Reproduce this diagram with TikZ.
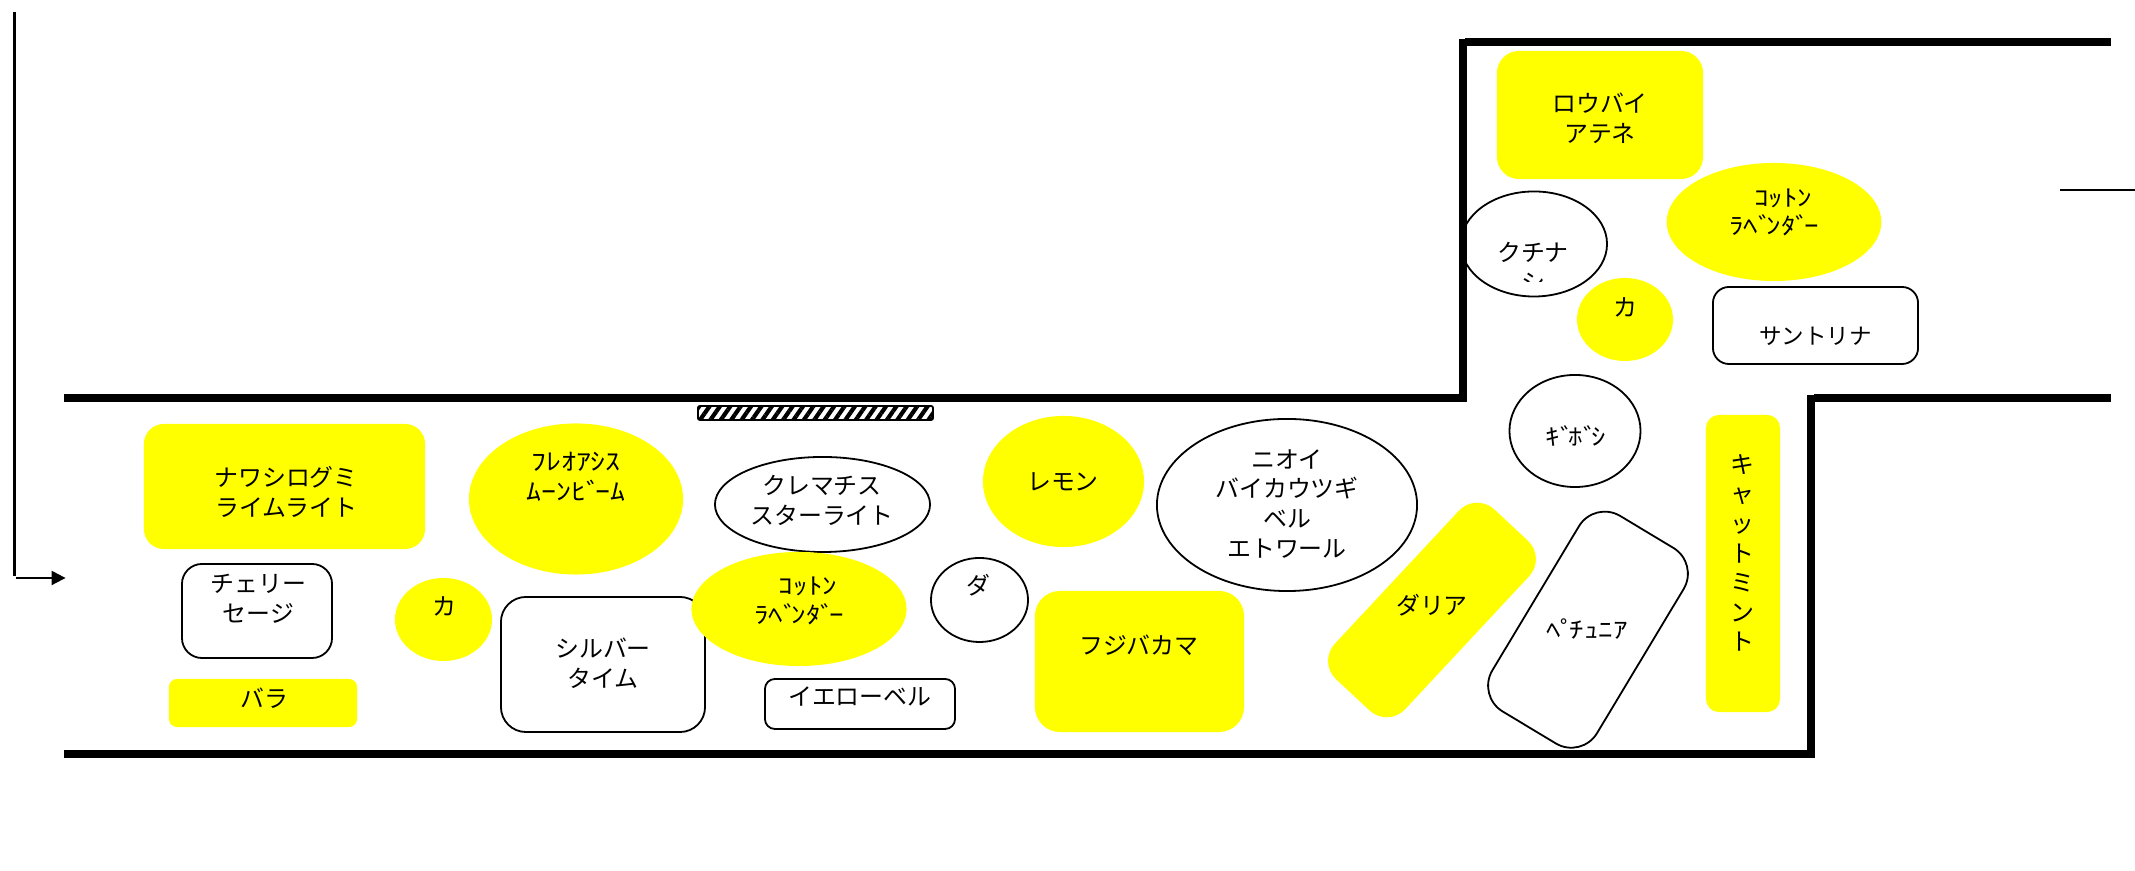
\documentclass[tikz,border=0pt]{standalone}
\usepackage{fontspec}
\setmainfont{Noto Sans CJK JP}
\newfontfamily\hankaku[FakeStretch=1.25]{Noto Sans CJK JP}
\usetikzlibrary{shapes.geometric,arrows.meta,patterns.meta}
\definecolor{plantyellow}{RGB}{255,255,0}
\newcommand\dk{\kern-0.06cm\relax}

\tikzset{
    wall/.style={line width=0.08cm},
    yellowbox/.style={rectangle, fill=plantyellow, inner sep=0},
    whitebox/.style={rectangle, draw, fill=white, line width=0.018cm, inner sep=0},
    yellowell/.style={ellipse, fill=plantyellow, inner sep=0},
    whiteell/.style={ellipse, draw, fill=white, line width=0.018cm, inner sep=0},
    zen/.style={align=center, inner sep=0, font=\fontsize{6.8pt}{8.5pt}\selectfont},
    han/.style={align=center, inner sep=0, font=\hankaku\fontsize{6.6pt}{8.1pt}\selectfont},
    hanbig/.style={align=center, inner sep=0, font=\hankaku\fontsize{6.8pt}{8.5pt}\selectfont}
}

\begin{document}
\begin{tikzpicture}[x=0.01cm, y=-0.01cm]
    \useasboundingbox (0,0) rectangle (2135,871);
    % left side
    \node[yellowbox, minimum width=2.81cm, minimum height=1.25cm, rounded corners=0.2cm] (nawashiro) at (284.5,486.5) {};
    \node[zen] (nawashirot) at (286,492) {ナワシログミ\\ライムライト};
    \node[yellowell, minimum width=2.14cm, minimum height=1.51cm] (phlox) at (576,499) {};
    \node[hanbig] (phloxt) at (576,477) {ﾌﾚｵｱｼｽ\\ﾑｰﾝﾋﾞ\dk ｰﾑ};
    \node[whitebox, minimum width=1.50cm, minimum height=0.94cm, rounded corners=0.2cm] (cherry) at (257,611) {};
    \node[zen] (cherryt) at (258.5,599) {チェリー\\セージ};
    \node[yellowell, minimum width=0.97cm, minimum height=0.83cm] (kaleft) at (443.5,619.5) {};
    \node[zen] (kaleftt) at (444,606) {カ};
    \node[whitebox, minimum width=2.04cm, minimum height=1.35cm, rounded corners=0.25cm] (silver) at (603,664.5) {};
    \node[zen] (silvert) at (603,663) {シルバー\\タイム};
    \node[yellowbox, minimum width=1.88cm, minimum height=0.48cm, rounded corners=0.08cm] (bara) at (263,703) {};
    \node[zen] (barat) at (264,698) {バラ};
    % middle
    \node[draw, line width=0.018cm, rounded corners=0.02cm, minimum width=2.35cm, minimum height=0.14cm, inner sep=0,
        pattern={Lines[angle=55,distance=0.085cm,line width=0.042cm]}] (hatch) at (815.5,413) {};
    \node[whiteell, minimum width=2.15cm, minimum height=0.95cm] (clematis) at (822.5,504.5) {};
    \node[zen] (clematist) at (822,500.5) {クレマチス\\スターライト};
    \node[yellowell, minimum width=2.15cm, minimum height=1.14cm] (cottonlow) at (799,609) {};
    \node[han] (cottonlowt) at (799,601) {\hspace*{0.18cm}ｺｯﾄﾝ\\ﾗﾍﾞ\dk ﾝﾀﾞ\dk ｰ};
    \node[whiteell, minimum width=0.97cm, minimum height=0.84cm] (da) at (979.5,600) {};
    \node[zen] (dat) at (978,585) {ダ};
    \node[yellowell, minimum width=1.61cm, minimum height=1.31cm] (lemon) at (1063.5,481.5) {};
    \node[zen] (lemont) at (1063,482) {レモン};
    \node[whiteell, minimum width=2.60cm, minimum height=1.72cm] (nioi) at (1287,505) {};
    \node[zen] (nioit) at (1287,504) {ニオイ\\バイカウツギ\\ベル\\エトワール};
    \node[yellowbox, minimum width=2.09cm, minimum height=1.41cm, rounded corners=0.25cm] (fuji) at (1139.5,661.5) {};
    \node[zen] (fujit) at (1139,645) {フジバカマ};
    \node[whitebox, minimum width=1.90cm, minimum height=0.50cm, rounded corners=0.1cm] (yellowbell) at (860,704) {};
    \node[zen] (yellowbellt) at (860,697) {イエローベル};
    % right side
    \node[yellowbox, minimum width=2.32cm, minimum height=0.96cm, rounded corners=0.25cm, rotate=47] (dahlia) at (1432,610) {};
    \node[zen] (dahliat) at (1432,605) {ダリア};
    \node[whitebox, minimum width=2.28cm, minimum height=1.22cm, rounded corners=0.3cm, rotate=59] (petunia) at (1588,629.7) {};
    \node[han] (petuniat) at (1587,629) {ﾍﾟ\dk ﾁｭﾆｱ};
    \node[whiteell, minimum width=1.31cm, minimum height=1.12cm] (giboshi) at (1575,431) {};
    \node[han] (giboshit) at (1576,436) {ｷﾞ\dk ﾎﾞ\dk ｼ};
    \node[yellowbox, minimum width=0.74cm, minimum height=2.97cm, rounded corners=0.13cm] (catmint) at (1743,563.5) {};
    \node[zen, font=\fontsize{6.8pt}{8.42pt}\selectfont] (catmintt) at (1742,553) {キ\\ャ\\ッ\\ト\\ミ\\ン\\ト};
    % upper room
    \node[yellowbox, minimum width=2.06cm, minimum height=1.28cm, rounded corners=0.22cm] (roubai) at (1600,115) {};
    \node[zen] (roubait) at (1600,118) {ロウバイ\\アテネ};
    \node[whiteell, minimum width=1.46cm, minimum height=1.05cm] (kuchinashi) at (1534,244) {};
    \node[zen] (kuchinashit) at (1533,252) {クチナ};
    \begin{scope}
        \clip (1510,272) rectangle (1560,282);
        \node[zen] (kuchinashis) at (1533,283) {シ};
    \end{scope}
    \node[yellowell, minimum width=2.145cm, minimum height=1.18cm] (cottonup) at (1774,222) {};
    \node[han] (cottonupt) at (1774,212.5) {\hspace*{0.18cm}ｺｯﾄﾝ\\ﾗﾍﾞ\dk ﾝﾀﾞ\dk ｰ};
    \node[yellowell, minimum width=0.96cm, minimum height=0.83cm] (karight) at (1625,319.5) {};
    \node[zen] (karightt) at (1625,307) {カ};
    \node[whitebox, minimum width=2.05cm, minimum height=0.77cm, rounded corners=0.16cm] (santolina) at (1815.5,325.5) {};
    \node[zen, font=\fontsize{6.4pt}{8.5pt}\selectfont] (santolinat) at (1815.5,336) {サントリナ};
    % walls
    \draw[wall] (64,398) -- (1466,398);
    \draw[wall] (1462.5,39) -- (1462.5,402);
    \draw[wall] (1465,42) -- (2111,42);
    \draw[wall] (1814,398) -- (2111,398);
    \draw[wall] (1811,395) -- (1811,758);
    \draw[wall] (64,754) -- (1815,754);
    % thin lines and arrow
    \coordinate (linetop) at (14.5,12);
    \coordinate (linebot) at (14.5,576);
    \coordinate (arrowfrom) at (15.6,578);
    \coordinate (arrowto) at (65.6,578);
    \coordinate (stubfrom) at (2060,190);
    \coordinate (stubto) at (2135,190);
    \draw[line width=0.03cm] (linetop) -- (linebot);
    \draw[line width=0.02cm, -{Triangle[length=0.14cm,width=0.14cm]}] (arrowfrom) -- (arrowto);
    \draw[line width=0.025cm] (stubfrom) -- (stubto);
\end{tikzpicture}
\end{document}
